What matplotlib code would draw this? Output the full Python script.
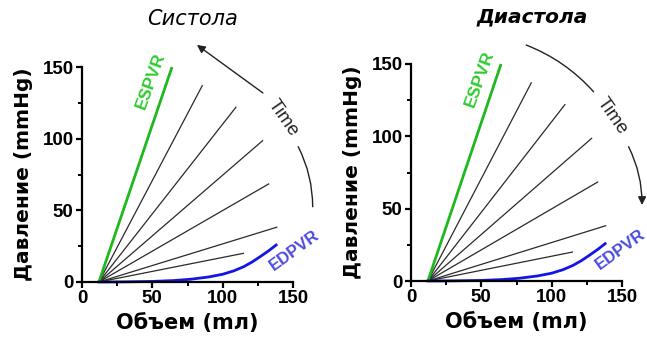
import matplotlib
matplotlib.use("Agg")
import matplotlib.pyplot as plt
from matplotlib.ticker import MultipleLocator

# data (volume ml, pressure mmHg)
v0 = 12
espvr_end = (64, 150)
line_ends_x = [85.5, 109.4, 128.4, 132.7, 138.4, 114.7]
line_ends_y = [137, 121.9, 98.6, 68.4, 38.2, 20]
edpvr_x = [12, 30, 50, 65, 77, 90, 100, 108, 115, 121, 127, 133, 138]
edpvr_y = [0, 0.1, 0.4, 1.0, 1.9, 3.5, 5.4, 7.8, 10.7, 14.0, 17.9, 22.0, 25.8]

titles = ["Систола", "Диастола"]
xticks = [0, 50, 100, 150]
yticks = [0, 50, 100, 150]

W, H = 647, 341
fig = plt.figure(figsize=(W / 100, H / 100), dpi=100)


def panel(rect, diastole):
    ax = fig.add_axes(rect)
    ax.set_xlim(0, 150)
    ax.set_ylim(0, 150)
    for s in ("top", "right"):
        ax.spines[s].set_visible(False)
    for s in ("left", "bottom"):
        ax.spines[s].set_linewidth(1.6)
    ax.set_xticks(xticks)
    ax.set_yticks(yticks)
    ax.xaxis.set_minor_locator(MultipleLocator(25))
    ax.yaxis.set_minor_locator(MultipleLocator(25))
    ax.tick_params(which="major", direction="out", length=4, width=1.6, pad=2)
    ax.tick_params(which="minor", direction="out", length=3, width=1.4)
    for lab in ax.get_xticklabels() + ax.get_yticklabels():
        lab.set_fontfamily("Liberation Sans")
        lab.set_fontweight("bold")
        lab.set_fontsize(13.5)

    ax.set_xlabel("Объем (mл)", fontsize=15, fontweight="bold", labelpad=4)
    ax.set_ylabel("Давление (mmHg)", fontsize=14.5, fontweight="bold", labelpad=7)

    for x, y in zip(line_ends_x, line_ends_y):
        ax.plot([v0, x], [0, y], color="#2a2a2a", lw=0.9, clip_on=False)
    ax.plot([v0, espvr_end[0]], [0, espvr_end[1]], color="#1fb81f", lw=2.0,
            clip_on=False, solid_capstyle="butt")
    ax.plot(edpvr_x, edpvr_y, color="#1414e6", lw=2.0, clip_on=False)

    ax.text(49, 140, "ESPVR", color="#2ecc2e", fontsize=12.5, fontweight="bold",
            fontfamily="Liberation Sans", rotation=70, ha="center", va="center")
    edx = 149 if diastole else 151
    ax.text(edx, 22, "EDPVR", color="#4a4ae0", fontsize=12, fontweight="bold",
            fontfamily="Liberation Sans", rotation=36, ha="center", va="center")

    ax.text(143, 114, "Time", color="#222222", fontsize=13.5,
            fontfamily="Liberation Sans", rotation=-55, ha="center", va="center")
    if not diastole:
        ax.annotate("", xy=(81.7, 165.4), xytext=(128.6, 131.9),
                    arrowprops=dict(arrowstyle="-|>", color="#222222", lw=1.0,
                                    mutation_scale=12, shrinkA=0, shrinkB=0),
                    annotation_clip=False)
        ax.annotate("", xy=(164, 52.5), xytext=(153.7, 94.4),
                    arrowprops=dict(arrowstyle="-", color="#222222", lw=1.0,
                                    shrinkA=0, shrinkB=0,
                                    connectionstyle="arc3,rad=-0.12"),
                    annotation_clip=False)
    else:
        ax.annotate("", xy=(129.8, 130.8), xytext=(81.9, 163.1),
                    arrowprops=dict(arrowstyle="-", color="#222222", lw=1.0,
                                    shrinkA=0, shrinkB=0,
                                    connectionstyle="arc3,rad=-0.12"),
                    annotation_clip=False)
        ax.annotate("", xy=(164.2, 52.5), xytext=(154.7, 92.8),
                    arrowprops=dict(arrowstyle="-|>", color="#222222", lw=1.0,
                                    mutation_scale=12, shrinkA=0, shrinkB=0,
                                    connectionstyle="arc3,rad=-0.12"),
                    annotation_clip=False)
    return ax


ax1 = panel([82 / W, 59 / H, 211 / W, 215 / H], False)
ax2 = panel([411 / W, 60 / H, 211 / W, 217 / H], True)

fig.text(192 / W, 1 - 19 / H, titles[0], fontsize=15, style="italic",
         ha="center", va="center")
fig.text(532 / W, 1 - 17 / H, titles[1], fontsize=14.5, style="italic",
         fontweight="bold", ha="center", va="center")

fig.savefig("out.png", dpi=100)
